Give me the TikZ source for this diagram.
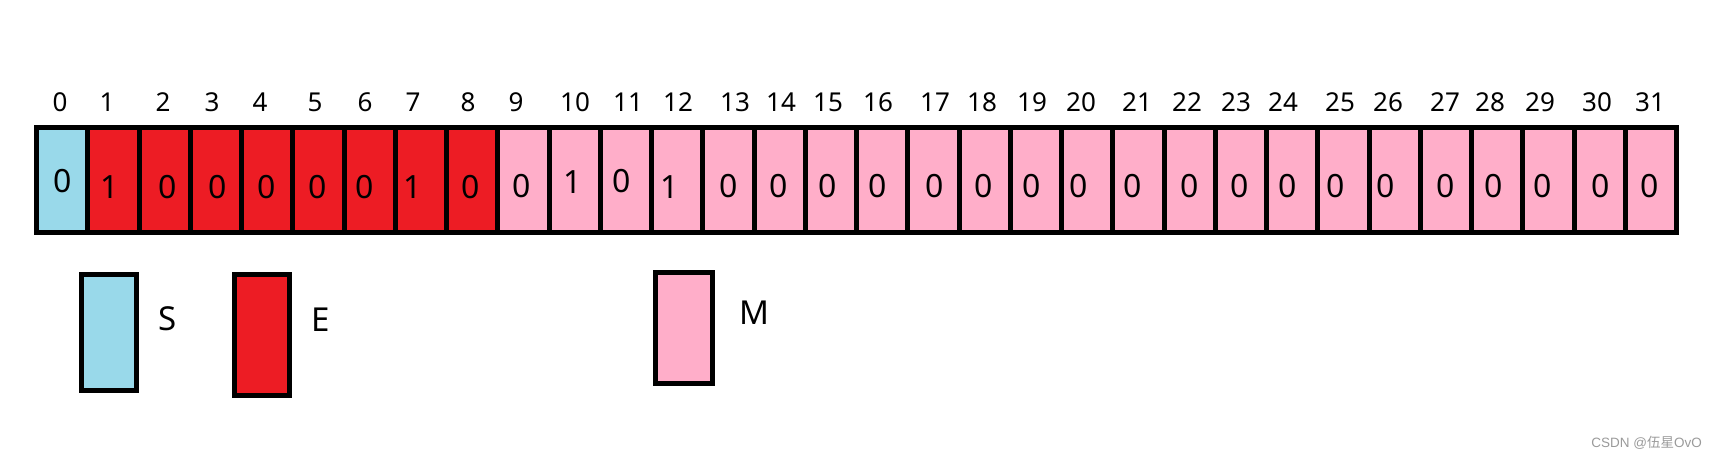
\documentclass[tikz,border=0pt]{standalone}
\usepackage{fontspec}
\setmainfont{Noto Sans}
\newfontfamily\cjk{Noto Sans CJK SC}
\newfontfamily\wmlat{Liberation Sans}
\definecolor{sblue}{HTML}{99D9EA}
\definecolor{ered}{HTML}{ED1C24}
\definecolor{mpink}{HTML}{FFAEC9}
\definecolor{wmgray}{HTML}{9A9A9A}
\begin{document}
\begin{tikzpicture}[x=1pt,y=-1pt,
  cell/.style={draw=black, line width=5pt, minimum width=51.25pt, minimum height=104.5pt, inner sep=0pt, outer sep=0pt},
  idx/.style={inner sep=0pt, font=\fontsize{26}{30}\selectfont},
  val/.style={inner sep=0pt, font=\fontsize{32}{36}\selectfont},
  legbox/.style={draw=black, line width=5pt, inner sep=0pt, outer sep=0pt},
  legtxt/.style={inner sep=0pt, font=\fontsize{33}{38}\selectfont},
  wm/.style={inner sep=0pt, text=wmgray, font=\fontsize{13.5}{16}\selectfont}]
\useasboundingbox (0,0) rectangle (1718,460);
\foreach \i/\col/\lx/\vx/\vy/\v in {
 0/sblue/60/62.7/181/0,
 1/ered/107/110/187/1, 2/ered/163/168/187/0, 3/ered/212/218/187/0, 4/ered/260/267/187/0,
 5/ered/315/318/187/0, 6/ered/365/365/187/0, 7/ered/413/413/187/1, 8/ered/468/471/187/0,
 9/mpink/516/522/186/0, 10/mpink/575/573/182/1, 11/mpink/628/622/181/0, 12/mpink/678/670/187/1,
 13/mpink/735/729/186/0, 14/mpink/781/779/186/0, 15/mpink/828/828/186/0, 16/mpink/878/878/186/0,
 17/mpink/935/935/186/0, 18/mpink/982/984/186/0, 19/mpink/1032/1032/186/0, 20/mpink/1081/1079/186/0,
 21/mpink/1137/1133/186/0, 22/mpink/1187/1190/186/0, 23/mpink/1236/1240/186/0, 24/mpink/1283/1288/186/0,
 25/mpink/1340/1336/186/0, 26/mpink/1388/1386/186/0, 27/mpink/1445/1446/186/0, 28/mpink/1490/1494/186/0,
 29/mpink/1540/1543/186/0, 30/mpink/1597/1601/186/0, 31/mpink/1650/1650/186/0}{
  \node[cell, fill=\col] (c\i) at ({62.125+51.25*\i},179.75) {};
  \node[idx] (l\i) at (\lx,102.5) {\i};
  \node[val] (v\i) at (\vx,\vy) {\v};
}
% legend
\node[legbox, fill=sblue, minimum width=55pt, minimum height=116pt] (ls) at (109,332.5) {};
\node[legtxt] (lst) at (168,319) {S};
\node[legbox, fill=ered, minimum width=55pt, minimum height=121pt] (le) at (262,335) {};
\node[legtxt] (let) at (321,319.5) {E};
\node[legbox, fill=mpink, minimum width=57pt, minimum height=111pt] (lm) at (684,328) {};
\node[legtxt] (lmt) at (754,313) {M};
% watermark
\node[wm, anchor=east] (wmk) at (1702,443) {\wmlat CSDN @{\cjk 伍星}OvO};
\end{tikzpicture}
\end{document}
